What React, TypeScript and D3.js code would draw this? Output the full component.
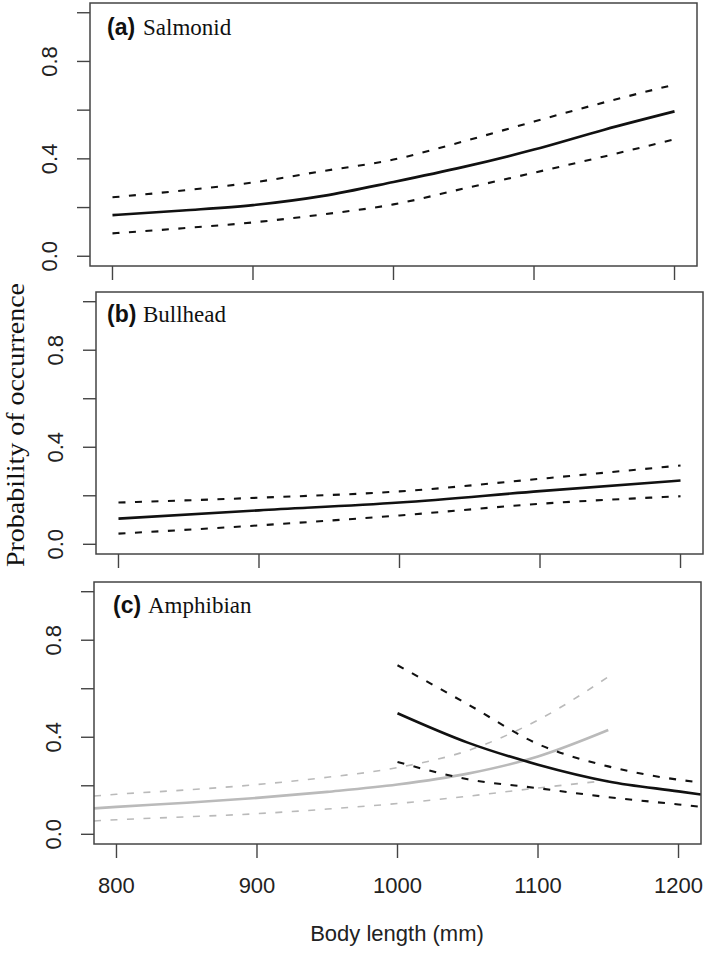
/**
 * Three stacked panels: probability of occurrence vs body length,
 * fitted curve with dashed confidence bands (R base-graphics look).
 */
import * as d3 from 'd3';

const W = 709;
const H = 955;

const xTicks = [800, 900, 1000, 1100, 1200];
const yTicks = [0, 0.2, 0.4, 0.6, 0.8, 1.0];
const yLabelTicks = [0, 0.4, 0.8];

// (a) Salmonid
const salmonX = [800, 850, 900, 950, 1000, 1050, 1100, 1150, 1200];
const salmonFit = [0.169, 0.188, 0.21, 0.248, 0.305, 0.367, 0.438, 0.52, 0.595];
const salmonUpper = [0.242, 0.27, 0.303, 0.35, 0.397, 0.472, 0.553, 0.632, 0.705];
const salmonLower = [0.094, 0.115, 0.139, 0.172, 0.213, 0.278, 0.343, 0.41, 0.48];

// (b) Bullhead
const bullX = [800, 900, 1000, 1100, 1200];
const bullFit = [0.106, 0.14, 0.172, 0.219, 0.263];
const bullUpper = [0.172, 0.192, 0.218, 0.27, 0.325];
const bullLower = [0.044, 0.078, 0.119, 0.167, 0.198];

// (c) Amphibian, grey group
const amphGreyX = [784, 800, 850, 900, 950, 1000, 1050, 1100, 1150];
const amphGreyFit = [0.107, 0.113, 0.13, 0.15, 0.175, 0.205, 0.25, 0.321, 0.43];
const amphGreyUpper = [0.158, 0.165, 0.183, 0.205, 0.235, 0.275, 0.345, 0.471, 0.649];
const amphGreyLower = [0.055, 0.06, 0.072, 0.085, 0.104, 0.127, 0.157, 0.191, 0.222];

// (c) Amphibian, black group
const amphBlackX = [1000, 1050, 1100, 1150, 1200, 1216];
const amphBlackFit = [0.499, 0.378, 0.287, 0.218, 0.177, 0.164];
const amphBlackUpper = [0.697, 0.536, 0.372, 0.28, 0.225, 0.214];
const amphBlackLower = [0.298, 0.227, 0.19, 0.153, 0.123, 0.113];

const panelTags = ['(a)', '(b)', '(c)'];
const panelNames = ['Salmonid', 'Bullhead', 'Amphibian'];

type Series = { x: number[]; y: number[]; kind: 'fit' | 'band'; grey?: boolean };

const panelSeries: Series[][] = [
  [
    { x: salmonX, y: salmonUpper, kind: 'band' },
    { x: salmonX, y: salmonLower, kind: 'band' },
    { x: salmonX, y: salmonFit, kind: 'fit' },
  ],
  [
    { x: bullX, y: bullUpper, kind: 'band' },
    { x: bullX, y: bullLower, kind: 'band' },
    { x: bullX, y: bullFit, kind: 'fit' },
  ],
  [
    { x: amphGreyX, y: amphGreyUpper, kind: 'band', grey: true },
    { x: amphGreyX, y: amphGreyLower, kind: 'band', grey: true },
    { x: amphGreyX, y: amphGreyFit, kind: 'fit', grey: true },
    { x: amphBlackX, y: amphBlackUpper, kind: 'band' },
    { x: amphBlackX, y: amphBlackLower, kind: 'band' },
    { x: amphBlackX, y: amphBlackFit, kind: 'fit' },
  ],
];

// panel box placement and label offsets (pixels)
const layout = [
  { left: 90, top: 3, h: 263, tagDx: 17, nameDx: 53, labDy: 32 },
  { left: 96, top: 292, h: 262, tagDx: 11, nameDx: 47, labDy: 30 },
  { left: 94, top: 582, h: 262, tagDx: 19, nameDx: 54, labDy: 31 },
];
const boxW = 607;

const SANS = '"Liberation Sans", Arial, sans-serif';
const SERIF = '"Liberation Serif", "Times New Roman", serif';

function Panel({ i }: { i: number }) {
  const L = layout[i];
  const x = d3.scaleLinear().domain([784, 1216]).range([L.left, L.left + boxW]);
  const y = d3.scaleLinear().domain([-0.04, 1.04]).range([L.top + L.h, L.top]);
  const bottom = L.top + L.h;
  const clipId = `clip-${i}`;

  return (
    <g>
      <defs>
        <clipPath id={clipId}>
          <rect x={L.left} y={L.top} width={boxW} height={L.h} />
        </clipPath>
      </defs>
      <g clipPath={`url(#${clipId})`}>
        {panelSeries[i].map((s, k) => {
          const line = d3
            .line<number>()
            .x((_, j) => x(s.x[j]))
            .y((d) => y(d))
            .curve(d3.curveMonotoneX);
          const color = s.grey ? '#bababa' : '#111';
          const width = s.kind === 'fit' ? 2.6 : s.grey ? 1.6 : 2.1;
          return (
            <path
              key={k}
              d={line(s.y) ?? ''}
              fill="none"
              stroke={color}
              strokeWidth={width}
              strokeDasharray={s.kind === 'band' ? '7,9.5' : undefined}
            />
          );
        })}
      </g>
      <rect x={L.left} y={L.top} width={boxW} height={L.h} fill="none" stroke="#444" strokeWidth={1.5} />

      {/* y axis ticks */}
      {yTicks.map((t) => (
        <line key={t} x1={L.left - 13} x2={L.left} y1={y(t)} y2={y(t)} stroke="#444" strokeWidth={1.4} />
      ))}
      {yLabelTicks.map((t) => (
        <text
          key={t}
          transform={`translate(${L.left - 33},${y(t)}) rotate(-90)`}
          textAnchor="middle"
          fontFamily={SANS}
          fontSize={22}
          fill="#222"
        >
          {t.toFixed(1)}
        </text>
      ))}

      {/* x axis ticks */}
      {xTicks.map((t) => (
        <line key={t} x1={x(t)} x2={x(t)} y1={bottom} y2={bottom + 14} stroke="#444" strokeWidth={1.4} />
      ))}
      {i === 2 &&
        xTicks.map((t) => (
          <text key={t} x={x(t)} y={bottom + 49} textAnchor="middle" fontFamily={SANS} fontSize={22} fill="#222">
            {t}
          </text>
        ))}

      <text x={L.left + L.tagDx} y={L.top + L.labDy} fontFamily={SANS} fontWeight="bold" fontSize={23} fill="#111">
        {panelTags[i]}
      </text>
      <text x={L.left + L.nameDx} y={L.top + L.labDy} fontFamily={SERIF} fontSize={23} fill="#111">
        {panelNames[i]}
      </text>
    </g>
  );
}

export default function App() {
  return (
    <svg
      width={W}
      height={H}
      style={{ position: 'absolute', left: 0, top: 0, background: '#fff' }}
    >
      <rect width={W} height={H} fill="#fff" />
      {[0, 1, 2].map((i) => (
        <Panel key={i} i={i} />
      ))}
      <text
        transform="translate(24,425) rotate(-90)"
        textAnchor="middle"
        fontFamily={SERIF}
        fontSize={26}
        textLength={284}
        lengthAdjust="spacingAndGlyphs"
        fill="#111"
      >
        Probability of occurrence
      </text>
      <text x={397} y={941} textAnchor="middle" fontFamily={SANS} fontSize={22} fill="#222">
        Body length (mm)
      </text>
    </svg>
  );
}
